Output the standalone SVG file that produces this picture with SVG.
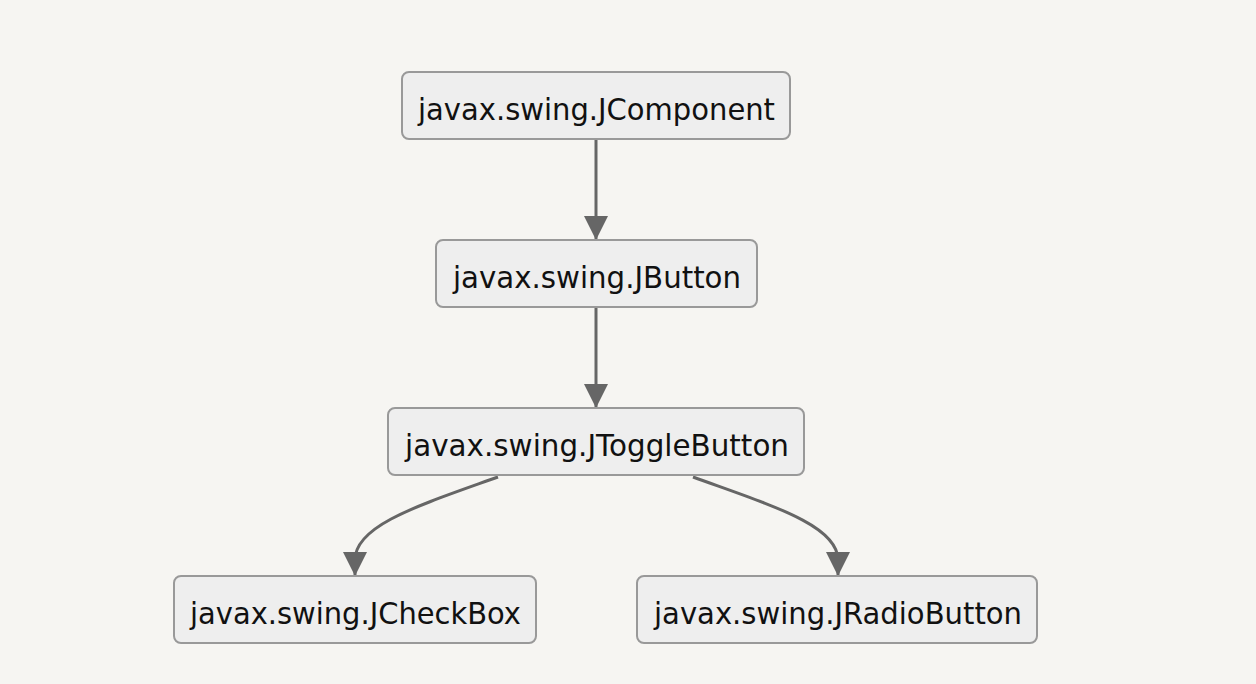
<svg xmlns="http://www.w3.org/2000/svg" width="1256" height="684" viewBox="0 0 1256 684">
<style>
.node rect{fill:#eeeeee;stroke:#999999;stroke-width:2}
.node text{font-family:"DejaVu Sans","Liberation Sans",sans-serif;font-size:30px;fill:#111;text-anchor:middle}
.edge{fill:none;stroke:#666666;stroke-width:3}
</style>
<defs>
<marker id="arrow" viewBox="0 0 24 24" refX="24" refY="12" markerWidth="24" markerHeight="24" orient="auto" markerUnits="userSpaceOnUse">
<path d="M0,0 L24,12 L0,24 Z" fill="#666666"/>
</marker>
</defs>
<rect width="1256" height="684" fill="#f6f5f2"/>
<g id="connectors">
<path class="edge" d="M596,140 L596,240" marker-end="url(#arrow)"/>
<path class="edge" d="M596,308 L596,408" marker-end="url(#arrow)"/>
<path class="edge" d="M498,477 C420,505 355,525 355,560 L355,576" marker-end="url(#arrow)"/>
<path class="edge" d="M693,477 C770,505 838,525 838,560 L838,576" marker-end="url(#arrow)"/>
</g>
<g id="n1" class="node"><rect x="402" y="72" width="388" height="67" rx="7"/><text x="596.5" y="120" textLength="357" lengthAdjust="spacingAndGlyphs">javax.swing.JComponent</text></g>
<g id="n2" class="node"><rect x="436" y="240" width="321" height="67" rx="7"/><text x="597" y="288" textLength="288" lengthAdjust="spacingAndGlyphs">javax.swing.JButton</text></g>
<g id="n3" class="node"><rect x="388" y="408" width="416" height="67" rx="7"/><text x="597" y="456" textLength="384" lengthAdjust="spacingAndGlyphs">javax.swing.JToggleButton</text></g>
<g id="n4" class="node"><rect x="174" y="576" width="362" height="67" rx="7"/><text x="355.5" y="624" textLength="331" lengthAdjust="spacingAndGlyphs">javax.swing.JCheckBox</text></g>
<g id="n5" class="node"><rect x="637" y="576" width="400" height="67" rx="7"/><text x="838" y="624" textLength="368" lengthAdjust="spacingAndGlyphs">javax.swing.JRadioButton</text></g>
</svg>
